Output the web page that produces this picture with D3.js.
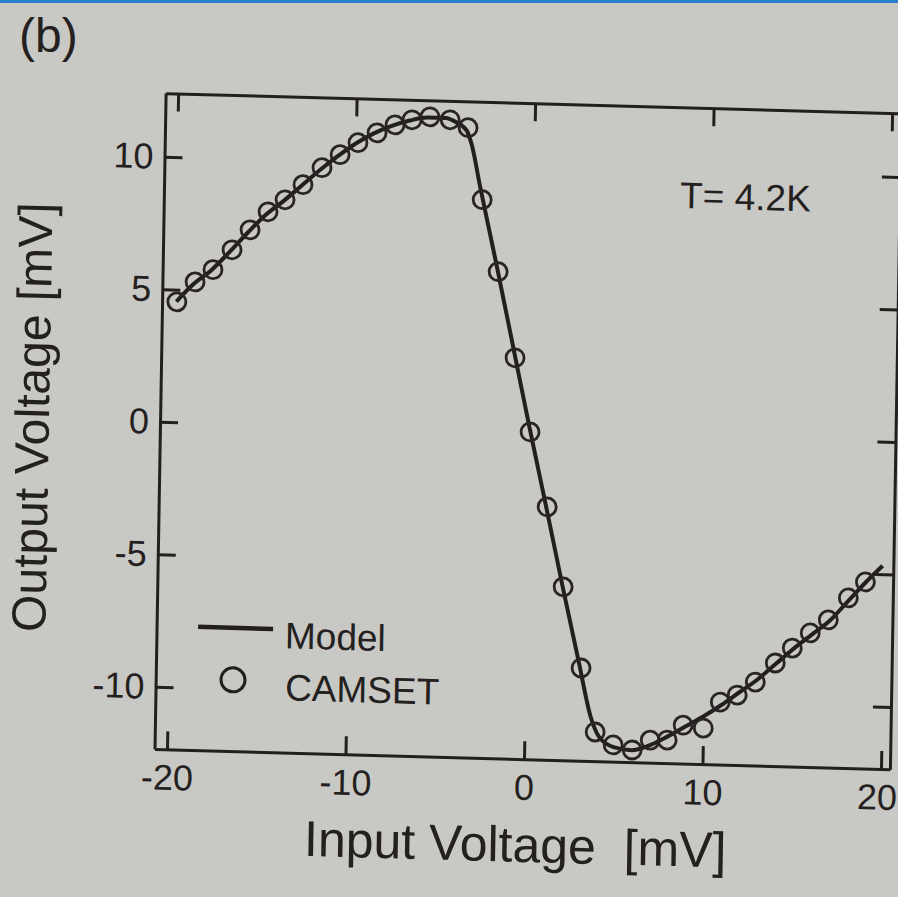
<!DOCTYPE html>
<html>
<head>
<meta charset="utf-8">
<script src="https://cdn.jsdelivr.net/npm/d3@7"></script>
<style>
  html, body { margin: 0; padding: 0; background: #c8c8c5; }
  svg { display: block; }
  text { font-family: "Liberation Sans", Arial, Helvetica, sans-serif; fill: #242020; }
</style>
</head>
<body>
<svg id="chart" width="898" height="897"></svg>
<script>
// ---- data ----
const camsetX = [-19.87, -18.87, -17.88, -16.83, -15.84, -14.85, -13.91, -12.92, -11.87, -10.87,
                 -9.88, -8.82, -7.82, -6.87, -5.87, -4.74, -3.73, -2.87, -1.91, -0.88,
                 0.03, 1.06, 2.03, 3.11, 3.96, 4.98, 6.05, 7.05, 8.0, 8.88,
                 10.01, 10.94, 11.88, 12.88, 13.98, 14.92, 15.91, 16.91, 18.01, 18.95];
const camsetY = [4.54, 5.31, 5.79, 6.56, 7.33, 8.03, 8.50, 9.09, 9.75, 10.26,
                 10.73, 11.12, 11.44, 11.65, 11.78, 11.69, 11.41, 8.71, 6.01, 2.78,
                 0.0, -2.81, -5.81, -8.85, -11.25, -11.72, -11.89, -11.5, -11.48, -10.9,
                 -10.99, -9.99, -9.71, -9.2, -8.46, -7.88, -7.29, -6.78, -5.93, -5.31];
const modelX = [-19.9, -19, -18, -17, -16, -15, -14, -13, -12, -11, -10, -9, -8, -7, -6, -5,
                -4.4, -3.8, -3.5, -3, -2, -1, 0, 1, 2, 3, 3.7, 4.2, 5, 6, 7, 8, 9, 10,
                11, 12, 13, 14, 15, 16, 17, 18, 19, 19.9];
const modelY = [4.55, 5.2, 5.75, 6.45, 7.2, 7.9, 8.45, 9.05, 9.65, 10.2, 10.7, 11.1, 11.4, 11.62, 11.75, 11.75,
                11.6, 11.3, 10.75, 9.2, 6.25, 3.2, 0.15, -2.8, -5.8, -8.7, -10.7, -11.45, -11.8, -11.9, -11.7, -11.35, -10.95, -10.55,
                -10.1, -9.6, -9.1, -8.5, -7.9, -7.35, -6.8, -6.05, -5.3, -4.68];
const xTicks = [-20, -10, 0, 10, 20];
const yTicks = [-10, -5, 0, 5, 10];
const xDomain = [-20.7, 20.5];
const yDomain = [-12.35, 12.4];
const legendLabels = ["Model", "CAMSET"];
const annotation = "T= 4.2K";
const panelLabel = "(b)";
const xTitle = "Input Voltage\u00a0\u00a0[mV]";
const yTitle = "Output Voltage [mV]";

// ---- drawing ----
const svg = d3.select("#chart");
svg.append("rect").attr("width", 898).attr("height", 897).attr("fill", "#c8c8c5");
svg.append("rect").attr("width", 898).attr("height", 3).attr("fill", "#2a7fcf");

const ink = "#231f1f";
const fmt = d => String(d);   // plain hyphen minus, as printed
const x = d3.scaleLinear().domain(xDomain).range([154.5, 889.9]);
const y = d3.scaleLinear().domain(yDomain).range([749.3, 93.4]);

// slight tilt of the photographed page
const g = svg.append("g").attr("transform", "matrix(1,0.02759,-0.01692,1,12.69,-4.55)");

function styleAxis(sel) {
  sel.select(".domain").attr("stroke", ink).attr("stroke-width", 3);
  sel.selectAll(".tick line").attr("stroke", ink).attr("stroke-width", 3);
  sel.selectAll(".tick text").attr("fill", ink).attr("font-size", 36)
     .attr("font-family", '"Liberation Sans", Arial, sans-serif');
}

const xAxisG = g.append("g").attr("transform", `translate(0,${y.range()[0]})`)
  .call(d3.axisBottom(x).tickValues(xTicks).tickSizeInner(-18).tickSizeOuter(0).tickPadding(15).tickFormat(fmt))
  .call(styleAxis);
// keep the last label inside the page edge
xAxisG.selectAll(".tick text").filter(d => d === xTicks[xTicks.length - 1]).attr("dx", -4);

g.append("g").attr("transform", `translate(0,${y.range()[1]})`)
  .call(d3.axisTop(x).tickValues(xTicks).tickSizeInner(-18).tickSizeOuter(0).tickFormat(""))
  .call(styleAxis);
g.append("g").attr("transform", `translate(${x.range()[0]},0)`)
  .call(d3.axisLeft(y).tickValues(yTicks).tickSizeInner(-18).tickSizeOuter(0).tickPadding(11).tickFormat(fmt))
  .call(styleAxis);
g.append("g").attr("transform", `translate(${x.range()[1]},0)`)
  .call(d3.axisRight(y).tickValues(yTicks).tickSizeInner(-18).tickSizeOuter(0).tickFormat(""))
  .call(styleAxis);

// model line
const modelData = modelX.map((d, i) => [d, modelY[i]]);
g.append("path")
  .datum(modelData)
  .attr("fill", "none")
  .attr("stroke", ink)
  .attr("stroke-width", 4)
  .attr("stroke-linejoin", "round")
  .attr("d", d3.line().x(d => x(d[0])).y(d => y(d[1])).curve(d3.curveMonotoneX));

// CAMSET circles
const camData = camsetX.map((d, i) => [d, camsetY[i]]);
g.append("g").selectAll("circle")
  .data(camData).join("circle")
  .attr("cx", d => x(d[0])).attr("cy", d => y(d[1]))
  .attr("r", 9)
  .attr("fill", "none")
  .attr("stroke", "#2a2424")
  .attr("stroke-width", 2.8);

// annotation
g.append("text").attr("x", 670.6).attr("y", 194).attr("font-size", 37).text(annotation);

// legend
g.append("line").attr("x1", 196).attr("x2", 271).attr("y1", 626).attr("y2", 626)
  .attr("stroke", ink).attr("stroke-width", 4.5);
g.append("text").attr("x", 283).attr("y", 645).attr("font-size", 37).text(legendLabels[0]);
g.append("circle").attr("cx", 231.8).attr("cy", 678).attr("r", 12)
  .attr("fill", "none").attr("stroke", ink).attr("stroke-width", 3);
g.append("text").attr("x", 284).attr("y", 697).attr("font-size", 37).text(legendLabels[1]);

// axis titles
g.append("text").attr("x", 516.7).attr("y", 852).attr("text-anchor", "middle")
  .attr("font-size", 50).text(xTitle);
g.append("text").attr("transform", "translate(43.4,421) rotate(-90)")
  .attr("text-anchor", "middle").attr("font-size", 48).text(yTitle);

// panel label
svg.append("text").attr("x", 19).attr("y", 52).attr("font-size", 48).attr("fill", ink).text(panelLabel);
</script>
</body>
</html>
